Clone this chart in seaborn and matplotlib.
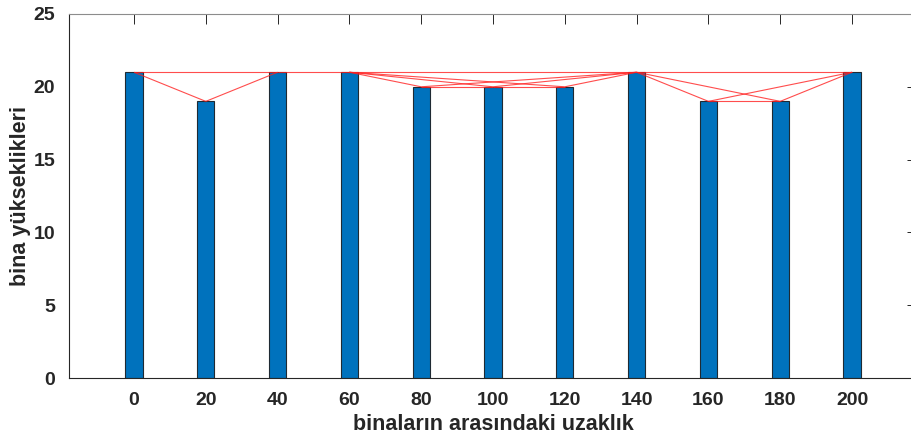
import matplotlib
matplotlib.use("Agg")
import matplotlib.pyplot as plt
import seaborn as sns
import pandas as pd

# Building positions and heights
distances = [0, 20, 40, 60, 80, 100, 120, 140, 160, 180, 200]
heights = [21, 19, 21, 21, 20, 20, 20, 21, 19, 19, 21]
x_ticks = [0, 20, 40, 60, 80, 100, 120, 140, 160, 180, 200]
y_ticks = [0, 5, 10, 15, 20, 25]


def visibility_edges(xs, hs):
    """Natural visibility graph: pairs of tops that can see each other."""
    edges = []
    n = len(xs)
    for a in range(n):
        for b in range(a + 1, n):
            ok = True
            for c in range(a + 1, b):
                line = hs[a] + (hs[b] - hs[a]) * (xs[c] - xs[a]) / (xs[b] - xs[a])
                if hs[c] >= line:
                    ok = False
                    break
            if ok:
                edges.append((a, b))
    return edges


sns.set_style("white")
plt.rcParams["font.family"] = ["Liberation Sans", "DejaVu Sans"]

fig = plt.figure(figsize=(9.11, 4.40), dpi=100)
ax = fig.add_axes([69 / 911, 62 / 440, 848 / 911, 364 / 440])

df = pd.DataFrame({"x": distances, "h": heights})
sns.barplot(data=df, x="x", y="h", native_scale=True, width=0.24,
            color="#0072BD", saturation=1, edgecolor="#1f2a33",
            linewidth=0.8, errorbar=None, ax=ax, zorder=2)

for a, b in visibility_edges(distances, heights):
    ax.plot([distances[a], distances[b]], [heights[a], heights[b]],
            color="#ff2020", lw=0.8, alpha=0.8, zorder=3, solid_capstyle="butt")

ax.set_xlim(-18.1, 218.1)
ax.set_ylim(0, 25)
ax.set_xticks(x_ticks)
ax.set_yticks(y_ticks)
ax.set_xticklabels([str(t) for t in x_ticks])
ax.set_yticklabels([str(t) for t in y_ticks])

ax.tick_params(direction="in", length=7, width=0.7, color="#262626",
               top=True, right=True, labelsize=14, labelcolor="#262626", pad=10)
for lab in ax.get_xticklabels() + ax.get_yticklabels():
    lab.set_fontweight("bold")

for side in ["left", "bottom", "top"]:
    ax.spines[side].set_visible(True)
    ax.spines[side].set_color("#262626")
    ax.spines[side].set_linewidth(0.8)
ax.spines["top"].set_color("#8c8c8c")
ax.spines["right"].set_visible(False)

ax.set_xlabel("binaların arasındaki uzaklık", fontsize=15.5, fontweight="bold",
              color="#262626", labelpad=4)
ax.set_ylabel("bina yükseklikleri", fontsize=15.5, fontweight="bold",
              color="#262626", labelpad=2)

fig.savefig("out.png", dpi=100)
